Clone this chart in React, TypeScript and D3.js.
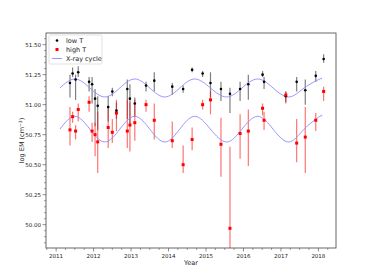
import * as d3 from 'd3';

const epochs = [
  2011.37, 2011.44, 2011.52, 2011.59, 2011.88, 2011.96, 2012.04, 2012.11, 2012.39, 2012.5, 2012.61,
  2012.9, 2012.97, 2013.1, 2013.4, 2013.62, 2014.1, 2014.39, 2014.63, 2014.91, 2015.12, 2015.4,
  2015.64, 2015.91, 2016.13, 2016.51, 2016.55, 2017.13, 2017.42, 2017.65, 2017.93, 2018.14,
];

const lowVal = [
  51.18, 51.26, 51.21, 51.27, 51.19, 51.17, 51.05, 50.99, 50.98, 51.11, 50.95, 51.13, 51.05, 51.01,
  51.16, 51.2, 51.15, 51.13, 51.29, 51.26, 51.18, 51.13, 51.09, 51.13, 51.17, 51.25, 51.19, 51.07,
  51.19, 51.12, 51.24, 51.38,
];
const lowHi = [
  51.25, 51.31, 51.25, 51.32, 51.23, 51.23, 51.13, 51.07, 51.07, 51.14, 51.02, 51.21, 51.17, 51.06,
  51.19, 51.27, 51.18, 51.16, 51.31, 51.28, 51.27, 51.19, 51.14, 51.19, 51.25, 51.28, 51.23, 51.11,
  51.23, 51.21, 51.28, 51.42,
];
const lowLo = [
  51.06, 51.23, 51.04, 51.23, 51.11, 51.01, 50.82, 50.79, 50.86, 51.07, 50.88, 50.88, 50.83, 50.9,
  51.11, 51.11, 51.08, 51.1, 51.27, 51.23, 51.06, 51.03, 50.93, 51.03, 51.04, 51.23, 51.13, 51.02,
  51.11, 51.0, 51.19, 51.35,
];

const highVal = [
  50.79, 50.9, 50.78, 50.96, 51.02, 50.78, 50.75, 50.69, 50.81, 50.77, 50.93, 50.78, 50.83, 50.85,
  51.0, 50.87, 50.7, 50.5, 50.71, 51.0, 51.04, 50.67, 49.97, 50.76, 50.78, 50.97, 50.87, 51.08,
  50.68, 50.73, 50.87, 51.11,
];
const highHi = [
  50.98, 50.94, 50.83, 51.01, 51.07, 50.85, 50.85, 50.94, 50.99, 50.88, 51.04, 51.04, 51.02, 51.04,
  51.04, 51.01, 50.86, 50.66, 50.81, 51.04, 51.11, 50.89, 50.65, 50.92, 50.96, 51.01, 50.94, 51.11,
  50.88, 50.98, 50.93, 51.15,
];
const highLo = [
  50.66, 50.85, 50.71, 50.86, 50.94, 50.69, 50.57, 50.43, 50.64, 50.68, 50.78, 50.64, 50.61, 50.7,
  50.94, 50.71, 50.64, 50.43, 50.62, 50.96, 50.92, 50.4, 49.7, 50.55, 50.49, 50.91, 50.79, 51.01,
  50.52, 50.43, 50.78, 51.03,
];

// X-ray cycle curves, read at quarter-period points
const cycleYear = [
  2011.1, 2011.5, 2011.9, 2012.3, 2012.7, 2013.1, 2013.5, 2013.9, 2014.3, 2014.7, 2015.12, 2015.55,
  2015.96, 2016.38, 2016.79, 2017.21, 2017.62, 2018.04, 2018.07,
];
const cycleUpper = [
  51.139, 51.214, 51.139, 51.064, 51.139, 51.214, 51.139, 51.064, 51.139, 51.214, 51.139, 51.064,
  51.139, 51.214, 51.139, 51.064, 51.139, 51.214, 51.213,
];
const cycleLower = [
  50.796, 50.903, 50.796, 50.689, 50.796, 50.903, 50.796, 50.689, 50.796, 50.903, 50.796, 50.689,
  50.796, 50.903, 50.796, 50.689, 50.796, 50.903, 50.902,
];

const yTicks = [50.0, 50.25, 50.5, 50.75, 51.0, 51.25, 51.5];
const xTicks = [2011, 2012, 2013, 2014, 2015, 2016, 2017, 2018];

const W = 374;
const H = 280;
const m = { left: 46, right: 38, top: 33, bottom: 32 };
const font = 'DejaVu Sans, sans-serif';
const cycleColor = '#8c8cff';

export default function App() {
  const x = d3.scaleLinear().domain([2010.73, 2018.47]).range([m.left, W - m.right]);
  const y = d3.scaleLinear().domain([49.806, 51.597]).range([H - m.bottom, m.top]);
  const [x0, x1] = x.range();
  const [y1, y0] = y.range();

  const line = d3
    .line<number>()
    .x((_, i) => x(cycleYear[i]))
    .curve(d3.curveNatural);
  const upperPath = line.y((v) => y(v))(cycleUpper) ?? '';
  const lowerPath = line.y((v) => y(v))(cycleLower) ?? '';

  const xMinor = d3.range(2010.75, 2018.5, 0.25).filter((t) => Math.abs(t - Math.round(t)) > 0.01);
  const yMinor = d3.range(49.85, 51.6, 0.05).filter((t) => Math.abs(t * 4 - Math.round(t * 4)) > 0.01);

  return (
    <svg width={W} height={H} style={{ position: 'absolute', left: 0, top: 0 }} fontFamily={font}>
      <rect width={W} height={H} fill="#fff" />
      <defs>
        <clipPath id="plot">
          <rect x={x0} y={y0} width={x1 - x0} height={y1 - y0} />
        </clipPath>
      </defs>

      <g clipPath="url(#plot)">
        {/* low T error bars + points */}
        {epochs.map((t, i) => (
          <line key={'lb' + i} x1={x(t)} x2={x(t)} y1={y(lowLo[i])} y2={y(lowHi[i])} stroke="#000" strokeOpacity={0.5} strokeWidth={1.2} />
        ))}
        {/* high T error bars */}
        {epochs.map((t, i) => (
          <line key={'hb' + i} x1={x(t)} x2={x(t)} y1={y(highLo[i])} y2={y(highHi[i])} stroke="#ff0000" strokeOpacity={0.55} strokeWidth={1.2} />
        ))}
        <path d={upperPath} fill="none" stroke={cycleColor} strokeWidth={0.9} />
        <path d={lowerPath} fill="none" stroke={cycleColor} strokeWidth={0.9} />
        {epochs.map((t, i) => (
          <circle key={'lp' + i} cx={x(t)} cy={y(lowVal[i])} r={1.3} fill="#000" />
        ))}
        {epochs.map((t, i) => (
          <rect key={'hp' + i} x={x(t) - 1.5} y={y(highVal[i]) - 1.5} width={3} height={3} fill="#ff0000" />
        ))}
      </g>

      {/* frame */}
      <rect x={x0} y={y0} width={x1 - x0} height={y1 - y0} fill="none" stroke="#444" strokeWidth={0.8} />

      {/* y axis */}
      {yTicks.map((t) => (
        <g key={'yt' + t}>
          <line x1={x0 - 3.5} x2={x0} y1={y(t)} y2={y(t)} stroke="#444" strokeWidth={0.6} />
          <text x={x0 - 5} y={y(t)} dy="0.35em" textAnchor="end" fontSize={5.5} fill="#222">
            {t.toFixed(2)}
          </text>
        </g>
      ))}
      {yMinor.map((t) => (
        <line key={'ym' + t} x1={x0 - 2} x2={x0} y1={y(t)} y2={y(t)} stroke="#444" strokeWidth={0.5} />
      ))}

      {/* x axis */}
      {xTicks.map((t) => (
        <g key={'xt' + t}>
          <line x1={x(t)} x2={x(t)} y1={y1} y2={y1 + 3.5} stroke="#444" strokeWidth={0.6} />
          <text x={x(t)} y={y1 + 9.5} textAnchor="middle" fontSize={5.5} fill="#222">
            {t}
          </text>
        </g>
      ))}
      {xMinor.map((t) => (
        <line key={'xm' + t} x1={x(t)} x2={x(t)} y1={y1} y2={y1 + 2} stroke="#444" strokeWidth={0.5} />
      ))}

      <text x={(x0 + x1) / 2} y={y1 + 16.5} textAnchor="middle" fontSize={6.5} fill="#222">
        Year
      </text>
      <text
        transform={`translate(24,${(y0 + y1) / 2}) rotate(-90)`}
        textAnchor="middle"
        fontSize={6.5}
        fill="#222"
      >
        log EM (cm<tspan dy={-2.5} fontSize={4.5}>−3</tspan>
        <tspan dy={2.5}>)</tspan>
      </text>

      {/* legend */}
      <g transform={`translate(${x0 + 3},${y0 + 2})`}>
        <rect width={53} height={29} rx={1.5} fill="#fff" fillOpacity={0.8} stroke="#ccc" strokeWidth={0.6} />
        <circle cx={8} cy={5.5} r={1.3} fill="#000" />
        <text x={17} y={5.5} dy="0.35em" fontSize={6.5} fill="#222">low T</text>
        <rect x={6.5} y={13} width={3} height={3} fill="#ff0000" />
        <text x={17} y={14.5} dy="0.35em" fontSize={6.5} fill="#222">high T</text>
        <line x1={3} x2={13} y1={23.5} y2={23.5} stroke={cycleColor} strokeWidth={0.9} />
        <text x={17} y={23.5} dy="0.35em" fontSize={6.5} fill="#222">X-ray cycle</text>
      </g>
    </svg>
  );
}
